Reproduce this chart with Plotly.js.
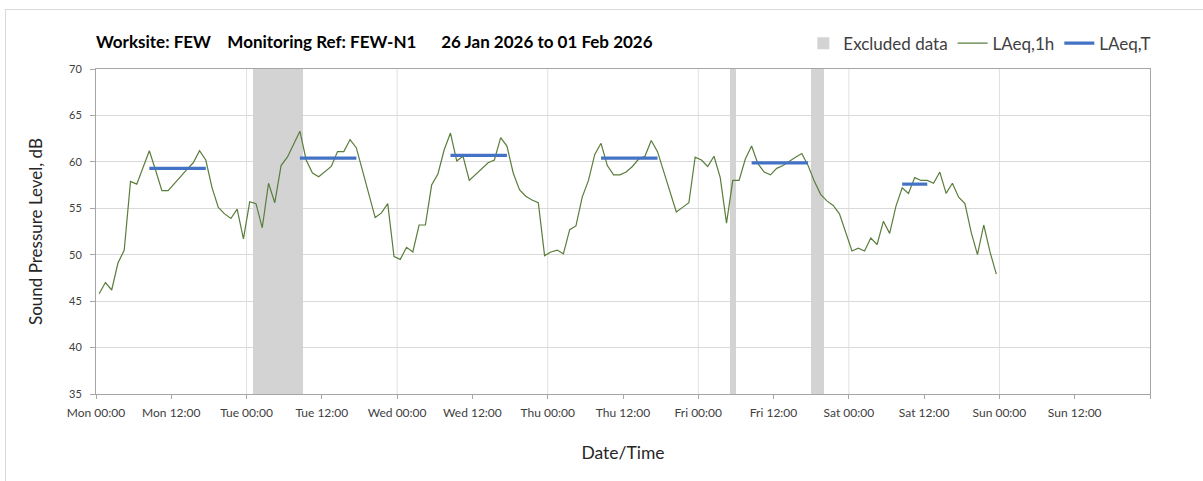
<!DOCTYPE html>
<html>
<head>
<meta charset="utf-8">
<script src="https://cdn.plot.ly/plotly-3.0.1.min.js"></script>
<style>
  html, body { margin: 0; padding: 0; background: #fff; }
  #wrap { position: relative; width: 1203px; height: 481px; overflow: hidden; }
  #chart { width: 1203px; height: 481px; }
  #frame { position: absolute; left: 5px; top: 9px; width: 1400px; height: 600px;
           border-left: 1px solid #d9d9d9; border-top: 1px solid #d9d9d9; pointer-events: none; }
</style>
</head>
<body>
<div id="wrap">
  <div id="chart"></div>
  <div id="frame"></div>
</div>
<script>
// ---------------- DATA ----------------
// Hourly LAeq,1h values, first hour 26 Jan 2026 00:00-01:00 (plotted at the half hour)
const firstHour = '2026-01-26 00:30';
const laeq1h = [
  45.8, 47.0, 46.2, 49.1, 50.5, 57.9, 57.6, 59.5, 61.2, 59.1, 56.9, 56.9,
  57.7, 58.4, 59.2, 59.9, 61.2, 60.2, 57.2, 55.1, 54.4, 53.9, 54.9, 51.7,
  55.7, 55.5, 52.9, 57.7, 55.6, 59.6, 60.5, 61.9, 63.3, 60.2, 58.8, 58.4,
  59.0, 59.5, 61.1, 61.1, 62.4, 61.5, 59.0, 56.5, 54.0, 54.5, 55.5, 49.8,
  49.5, 50.8, 50.3, 53.2, 53.2, 57.5, 58.7, 61.3, 63.1, 60.1, 60.6, 58.0,
  58.6, 59.3, 59.9, 60.2, 62.6, 61.7, 58.8, 57.0, 56.3, 55.9, 55.6, 49.9,
  50.3, 50.5, 50.1, 52.7, 53.1, 56.2, 58.0, 60.8, 62.0, 59.6, 58.6, 58.6,
  58.9, 59.5, 60.3, 60.6, 62.3, 61.1, 58.9, 56.7, 54.6, 55.1, 55.6, 60.5,
  60.2, 59.5, 60.6, 58.3, 53.4, 58.0, 58.0, 60.3, 61.7, 59.8, 58.9, 58.6,
  59.3, 59.6, 60.1, 60.5, 60.9, 59.6, 57.9, 56.5, 55.8, 55.3, 54.4, 52.5,
  50.4, 50.7, 50.4, 51.8, 51.1, 53.6, 52.3, 55.2, 57.2, 56.6, 58.3, 58.0,
  58.0, 57.7, 58.9, 56.6, 57.7, 56.2, 55.5, 52.4, 50.0, 53.2, 50.3, 47.9
];

// LAeq,T daytime periods
const ltStart = ['2026-01-26 08:30', '2026-01-27 08:30', '2026-01-28 08:30',
                 '2026-01-29 08:30', '2026-01-30 08:30', '2026-01-31 08:30'];
const ltEnd   = ['2026-01-26 17:30', '2026-01-27 17:30', '2026-01-28 17:30',
                 '2026-01-29 17:30', '2026-01-30 17:30', '2026-01-31 12:30'];
const ltValue = [59.3, 60.4, 60.7, 60.4, 59.9, 57.6];

// Excluded data periods
const exStart = ['2026-01-27 01:00', '2026-01-30 05:00', '2026-01-30 18:00'];
const exEnd   = ['2026-01-27 09:00', '2026-01-30 06:00', '2026-01-30 20:00'];

// Axis
const tickTimes = ['2026-01-26 00:00', '2026-01-26 12:00', '2026-01-27 00:00', '2026-01-27 12:00',
                   '2026-01-28 00:00', '2026-01-28 12:00', '2026-01-29 00:00', '2026-01-29 12:00',
                   '2026-01-30 00:00', '2026-01-30 12:00', '2026-01-31 00:00', '2026-01-31 12:00',
                   '2026-02-01 00:00', '2026-02-01 12:00', '2026-02-02 00:00'];
const tickLabels = ['Mon 00:00', 'Mon 12:00', 'Tue 00:00', 'Tue 12:00', 'Wed 00:00', 'Wed 12:00',
                    'Thu 00:00', 'Thu 12:00', 'Fri 00:00', 'Fri 12:00', 'Sat 00:00', 'Sat 12:00',
                    'Sun 00:00', 'Sun 12:00', ''];
const yMin = 35, yMax = 70, yStep = 5;

// ---------------- BUILD ----------------
const ms = s => Date.parse(s.replace(' ', 'T') + ':00Z');
const HOUR = 3600000;

const hourX = laeq1h.map((v, i) => ms(firstHour) + i * HOUR);

const ltX = [], ltY = [];
ltStart.forEach((s, i) => {
  ltX.push(ms(s), ms(ltEnd[i]), null);
  ltY.push(ltValue[i], ltValue[i], null);
});

const exX = exStart.map((s, i) => (ms(s) + ms(exEnd[i])) / 2);
const exW = exStart.map((s, i) => ms(exEnd[i]) - ms(s));
const exY = exStart.map(() => yMax - yMin);

const tickX = tickTimes.map(ms);
const dayGrid = tickX.filter((t, i) => i % 2 === 0 && i > 0 && i < tickX.length - 1);

const FONT = 'Lato, "Open Sans", sans-serif';
const NB = n => '\u00a0'.repeat(n);

const traces = [
  {
    type: 'bar', name: 'Excluded data',
    x: exX, y: exY, base: yMin, width: exW,
    marker: { color: '#d3d3d3', line: { width: 0 } },
    hoverinfo: 'skip'
  },
  {
    type: 'scatter', mode: 'lines', name: 'LAeq,1h',
    x: hourX, y: laeq1h,
    line: { color: '#5a7d3c', width: 1.2 }
  },
  {
    type: 'scatter', mode: 'lines', name: 'LAeq,T',
    x: ltX, y: ltY, connectgaps: false,
    line: { color: '#4472c4', width: 3.2 }
  }
];

const layout = {
  width: 1203, height: 481,
  margin: { l: 96, r: 53, t: 69, b: 87, pad: 0 },
  paper_bgcolor: '#ffffff', plot_bgcolor: '#ffffff',
  font: { family: FONT, color: '#404040' },
  showlegend: true,
  title: {
    text: 'Worksite: FEW' + NB(4) + 'Monitoring Ref: FEW-N1' + NB(6) + '26 Jan 2026 to 01 Feb 2026',
    font: { family: FONT, size: 17, color: '#000000', weight: 'bold' },
    xref: 'paper', x: 0, xanchor: 'left',
    yref: 'container', y: 1 - 42 / 481, yanchor: 'middle'
  },
  legend: {
    orientation: 'h', x: 1.006, xanchor: 'right', y: 1.078, yanchor: 'middle',
    font: { family: FONT, size: 17, color: '#404040' },
    bgcolor: 'rgba(0,0,0,0)', traceorder: 'normal', itemwidth: 30
  },
  xaxis: {
    type: 'date', range: [tickX[0], tickX[tickX.length - 1]],
    tickmode: 'array', tickvals: tickX, ticktext: tickLabels,
    ticks: 'outside', ticklen: 4, tickcolor: '#a6a6a6', tickwidth: 1,
    showline: true, linecolor: '#a6a6a6', linewidth: 1, mirror: true,
    showgrid: false, zeroline: false, fixedrange: true, ticklabelstandoff: 4,
    tickfont: { family: FONT, size: 12, color: '#404040' },
    title: { text: 'Date/Time', font: { family: FONT, size: 17.5, color: '#262626' }, standoff: 27 }
  },
  yaxis: {
    range: [yMin, yMax], tickmode: 'linear', tick0: yMin, dtick: yStep,
    ticks: 'outside', ticklen: 5, tickcolor: '#a6a6a6', tickwidth: 1,
    showline: true, linecolor: '#a6a6a6', linewidth: 1, mirror: true,
    showgrid: true, gridcolor: '#d9d9d9', gridwidth: 1, zeroline: false, fixedrange: true,
    ticklabelstandoff: 6,
    tickfont: { family: FONT, size: 11, color: '#404040' },
    title: { text: 'Sound Pressure Level, dB', font: { family: FONT, size: 17, color: '#262626' }, standoff: 22 }
  },
  shapes: dayGrid.map(t => ({
    type: 'line', xref: 'x', yref: 'paper', x0: t, x1: t, y0: 0, y1: 1,
    line: { color: '#e0e0e0', width: 1 }, layer: 'below'
  })),
  bargap: 0
};

Plotly.newPlot('chart', traces, layout, { displayModeBar: false, staticPlot: true });
</script>
</body>
</html>
